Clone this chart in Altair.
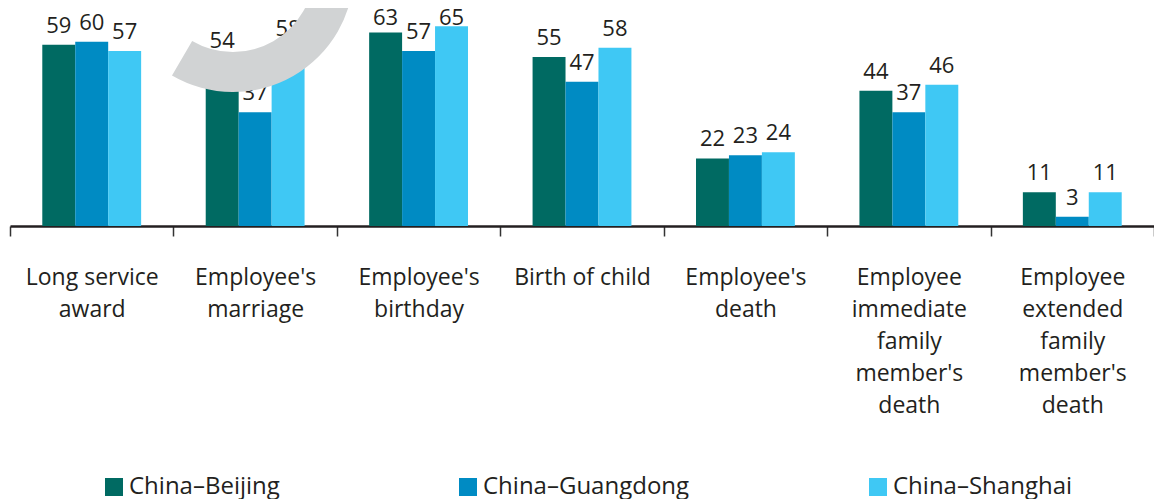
import altair as alt
import pandas as pd

categories = [
    "Long service|award",
    "Employee's|marriage",
    "Employee's|birthday",
    "Birth of child",
    "Employee's|death",
    "Employee|immediate|family|member's|death",
    "Employee|extended|family|member's|death",
]
series = ["China\u2013Beijing", "China\u2013Guangdong", "China\u2013Shanghai"]
beijing = [59, 54, 63, 55, 22, 44, 11]
guangdong = [60, 37, 57, 47, 23, 37, 3]
shanghai = [57, 58, 65, 58, 24, 46, 11]
colors = ["#006a62", "#008bc3", "#3fc8f4"]

rows = []
for vals, s in zip([beijing, guangdong, shanghai], series):
    for c, v in zip(categories, vals):
        rows.append({"category": c, "series": s, "value": v})
df = pd.DataFrame(rows)

FONT = "Open Sans"
TXT = "#231f20"
YSCALE = alt.Scale(domain=[0, 70])

xenc = alt.X(
    "category:N",
    sort=categories,
    scale=alt.Scale(paddingInner=0, paddingOuter=0),
    axis=alt.Axis(
        title=None,
        labelExpr="split(datum.label, '|')",
        labelAngle=0,
        labelFont=FONT,
        labelFontSize=23,
        labelColor=TXT,
        labelLineHeight=32,
        labelPadding=30,
        labelLimit=300,
        tickBand="extent",
        tickSize=10,
        tickWidth=1.5,
        tickColor="#333333",
        domainColor=TXT,
        domainWidth=2.5,
        grid=False,
    ),
)
xoff = alt.XOffset(
    "series:N", sort=series, scale=alt.Scale(paddingInner=0, paddingOuter=0.98)
)

base = alt.Chart(df).encode(x=xenc, xOffset=xoff)

bars = base.mark_bar().encode(
    y=alt.Y("value:Q", scale=YSCALE, axis=None),
    color=alt.Color(
        "series:N",
        sort=series,
        scale=alt.Scale(domain=series, range=colors),
        legend=alt.Legend(
            title=None,
            orient="none",
            direction="horizontal",
            legendX=92,
            legendY=464,
            symbolType="square",
            symbolSize=324,
            symbolStrokeWidth=0,
            labelFont=FONT,
            labelFontSize=24,
            labelColor=TXT,
            labelOffset=3,
            labelLimit=400,
            columnPadding=176,
            padding=0,
        ),
    ),
)

labels = (
    base.transform_calculate(label_y="min(datum.value + 3.9, 65.3)")
    .mark_text(baseline="alphabetic", font=FONT, fontSize=22, color=TXT)
    .encode(y=alt.Y("label_y:Q", scale=YSCALE, axis=None), text="value:Q")
)

arc = alt.Chart(alt.Data(values=[{"a": 1}])).mark_arc(color="#d1d3d4").encode(
    x=alt.value(223),
    y=alt.value(-40),
    theta=alt.value(1.571),
    theta2=alt.value(3.67),
    radius=alt.value(81),
    radius2=alt.value(121),
)

chart = (
    alt.layer(bars, labels, arc)
    .properties(
        width=1144,
        height=215,
        autosize=alt.AutoSizeParams(type="none"),
        padding={"left": 2, "top": 3, "right": 0, "bottom": 276},
    )
    .configure_view(stroke=None)
)

chart.save("out.html", embed_options={"renderer": "svg", "actions": False})
